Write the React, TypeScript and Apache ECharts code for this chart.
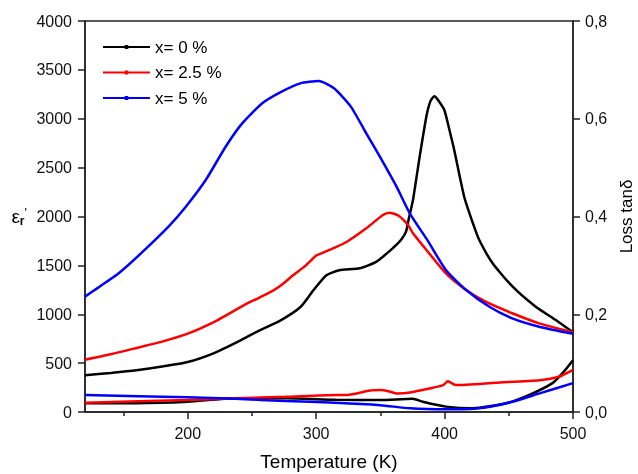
import React, { useEffect, useRef } from "react";
import * as echarts from "echarts";

// Dielectric permittivity (left axis)
const eps0T = [120, 140, 160, 180, 200, 220, 240, 256, 272, 288, 298, 308, 318, 334, 347, 360, 366, 370, 372, 375.4, 380.6, 385.8, 389, 392, 395, 399.8, 403.5, 407.5, 415.3, 423, 427, 437.4, 453, 471, 486.6, 500];
const eps0V = [375, 400, 428, 465, 511, 600, 725, 836, 935, 1077, 1248, 1400, 1450, 1470, 1538, 1680, 1760, 1845, 1970, 2169, 2612, 3021, 3180, 3230, 3190, 3090, 2900, 2680, 2200, 1896, 1760, 1521, 1282, 1077, 941, 815];

const eps25T = [120, 140, 158, 180, 200, 223, 246, 262, 272, 282, 292, 300, 304, 314, 324, 339, 352, 357, 364, 371.5, 375.4, 388, 401, 416.8, 432, 452.7, 473.6, 500];
const eps25V = [535, 590, 648, 720, 801, 938, 1108, 1210, 1290, 1398, 1500, 1600, 1623, 1680, 1742, 1879, 2015, 2039, 2010, 1913, 1828, 1623, 1419, 1248, 1128, 1010, 907, 815];

const eps5T = [120, 130, 146.5, 165, 185, 198.5, 214, 229.5, 242.4, 258, 272, 287.6, 302, 313.9, 327, 339, 349.6, 362.6, 372.9, 387, 401, 416.8, 434.9, 452.7, 473.6, 500];
const eps5V = [1180, 1270, 1422, 1640, 1896, 2100, 2373, 2714, 2953, 3158, 3270, 3362, 3385, 3311, 3124, 2851, 2612, 2305, 2033, 1750, 1453, 1248, 1077, 958, 873, 800];

// Loss tangent (right axis)
const tan0T = [120, 160, 200, 237, 276, 315, 350, 375, 383, 401, 422, 448, 466, 484, 492, 500];
const tan0V = [0.018, 0.018, 0.021, 0.028, 0.028, 0.025, 0.0245, 0.027, 0.021, 0.011, 0.0076, 0.018, 0.035, 0.059, 0.08, 0.106];

const tan25T = [120, 200, 237, 276, 315, 324, 342, 350, 357, 363, 373, 388, 399, 402.5, 409, 440, 474, 489, 500];
const tan25V = [0.019, 0.0245, 0.028, 0.031, 0.035, 0.035, 0.044, 0.045, 0.042, 0.038, 0.04, 0.048, 0.055, 0.063, 0.055, 0.06, 0.065, 0.072, 0.086];

const tan5T = [120, 200, 237, 276, 315, 350, 373, 401, 427, 453, 474, 500];
const tan5V = [0.035, 0.03, 0.027, 0.0225, 0.019, 0.014, 0.0076, 0.0055, 0.0076, 0.021, 0.038, 0.059];

const legendNames = ["x= 0 %", "x= 2.5 %", "x= 5 %"];
const xMajorTicks = [200, 300, 400, 500];
const xMinorTicks = [150, 250, 350, 450];

const zip = (t: number[], v: number[]) => t.map((x, i) => [x, v[i]]);

export default function App() {
  const ref = useRef<HTMLDivElement>(null);
  useEffect(() => {
    if (!ref.current) return;
    const chart = echarts.init(ref.current, undefined, { renderer: "svg" });
    const font = "'Liberation Sans', Arial, sans-serif";
    const axisColor = "#222";
    const mk = (name: string, t: number[], v: number[], color: string, yi: number) => ({
      name,
      type: "line",
      yAxisIndex: yi,
      data: zip(t, v),
      smooth: 0.2,
      symbol: "none",
      lineStyle: { color, width: 2.5 },
      itemStyle: { color },
    });
    const legendIcon = "path://M0,1.1 L47,1.1 L47,2.9 L0,2.9 Z M21.7,0 L25.3,0 L25.3,4 L21.7,4 Z";
    chart.setOption({
      animation: false,
      textStyle: { fontFamily: font },
      grid: {
        left: 85, right: 65, top: 21, bottom: 62,
        outerBoundsMode: "none",
        containLabel: false,
        show: true, borderColor: axisColor, borderWidth: 1.5, backgroundColor: "transparent",
      },
      legend: {
        data: legendNames.map((n) => ({ name: n, icon: legendIcon })),
        orient: "vertical",
        left: 98,
        top: 33,
        itemWidth: 47,
        itemHeight: 14,
        itemGap: 7.5,
        textStyle: { fontSize: 17, color: "#000", fontFamily: font, lineHeight: 18 },
      },
      xAxis: [
        {
          type: "value",
          min: 120,
          max: 500,
          position: "bottom",
          name: "Temperature (K)",
          nameLocation: "middle",
          nameGap: 40,
          nameTextStyle: { fontSize: 19, color: "#000", fontFamily: font },
          axisLine: { show: true, lineStyle: { color: axisColor, width: 1.5 } },
          axisTick: { show: true, customValues: xMajorTicks, length: 7, lineStyle: { color: axisColor, width: 1.5 } },
          axisLabel: { customValues: xMajorTicks, fontSize: 16, color: "#111", margin: 13, fontFamily: font },
          splitLine: { show: false },
        },
        {
          type: "value",
          min: 120,
          max: 500,
          position: "bottom",
          axisLine: { show: false },
          axisTick: { show: true, customValues: xMinorTicks, length: 4, lineStyle: { color: axisColor, width: 1.5 } },
          axisLabel: { show: false },
          splitLine: { show: false },
        },
      ],
      yAxis: [
        {
          type: "value",
          min: 0,
          max: 4000,
          interval: 500,
          position: "left",
          name: "{e|ε}{r|r}{p|'}",
          nameLocation: "middle",
          nameRotate: 0,
          nameGap: 58,
          nameTextStyle: {
            rich: {
              e: { fontSize: 19, color: "#000", fontFamily: font },
              r: { fontSize: 12, color: "#000", fontFamily: font, fontWeight: "bold", verticalAlign: "bottom", padding: [9, 0, 0, 0] },
              p: { fontSize: 13, color: "#000", fontFamily: font, verticalAlign: "top", padding: [0, 0, 6, 0] },
            },
          },
          axisLine: { show: true, lineStyle: { color: axisColor, width: 1.5 } },
          axisTick: { show: true, length: 7, lineStyle: { color: axisColor, width: 1.5 } },
          axisLabel: { fontSize: 16, color: "#111", margin: 13, fontFamily: font, formatter: (v: number) => String(v) },
          splitLine: { show: false },
        },
        {
          type: "value",
          min: 0,
          max: 0.8,
          interval: 0.2,
          position: "right",
          name: "Loss tanδ",
          nameLocation: "middle",
          nameRotate: 90,
          nameGap: 40,
          nameTextStyle: { fontSize: 17, color: "#000", fontFamily: font },
          axisLine: { show: true, lineStyle: { color: axisColor, width: 1.5 } },
          axisTick: { show: true, length: 7, lineStyle: { color: axisColor, width: 1.5 } },
          axisLabel: {
            fontSize: 16, color: "#111", margin: 12, fontFamily: font,
            formatter: (v: number) => v.toFixed(1).replace(".", ","),
          },
          splitLine: { show: false },
        },
      ],
      series: [
        mk(legendNames[0], eps0T, eps0V, "#000000", 0),
        mk(legendNames[1], eps25T, eps25V, "#ff0000", 0),
        mk(legendNames[2], eps5T, eps5V, "#0000ff", 0),
        mk("tan 0", tan0T, tan0V, "#000000", 1),
        mk("tan 2.5", tan25T, tan25V, "#ff0000", 1),
        mk("tan 5", tan5T, tan5V, "#0000ff", 1),
      ],
    });
    return () => chart.dispose();
  }, []);
  return <div ref={ref} style={{ position: "fixed", left: 0, top: 0, width: 638, height: 474 }} />;
}
